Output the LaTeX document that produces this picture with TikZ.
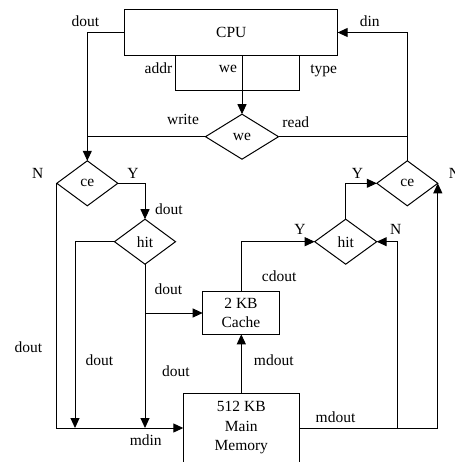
\documentclass[tikz,border=0pt]{standalone}
\usepackage{fontspec}
\setmainfont{Liberation Serif}
\usetikzlibrary{arrows.meta,shapes.geometric}
\begin{document}
\begin{tikzpicture}[x=1pt,y=-1pt, line width=1pt, >={Triangle[length=10pt,width=9pt]},
 every node/.style={font=\fontsize{15.5}{19.5}\selectfont},
 box/.style={draw, rectangle, inner sep=0pt, outer sep=0pt, align=center},
 dec/.style={draw, diamond, inner sep=0pt, outer sep=0pt, minimum width=61pt, minimum height=45pt},
 lab/.style={anchor=base, inner sep=0pt}]
\clip (0,0) rectangle (454,462);
% blocks
\node[box, minimum width=212.7pt, minimum height=46.4pt] (cpu) at (231.3,32.5) {CPU};
\node[box, minimum width=124.3pt, minimum height=35pt] (sig) at (237.2,73.2) {};
\node[dec, minimum width=73pt] (we) at (242,136.7) {we};
\node[dec] (ceL) at (87.3,183.3) {ce};
\node[dec] (hitL) at (145,241.7) {hit};
\node[dec, minimum width=62pt] (hitR) at (345.7,241.7) {hit};
\node[dec] (ceR) at (407.3,183.3) {ce};
\node[box, minimum width=76.6pt, minimum height=42.6pt] (cache) at (241,313) {2 KB\\Cache};
\node[box, minimum width=116pt, minimum height=70pt] (mem) at (241.3,428) {512 KB\\Main\\Memory};
\coordinate (dA) at (75,0);
\coordinate (dB) at (397.7,0);
% connectors
\draw[->] (cpu.west) -| (ceL.north);
\draw (we.west) -- (we.west -| ceL.north);
\draw[->] (ceR.north) |- (cpu.east);
\draw (we.east) -- (we.east -| ceR.north);
\draw[->] (we.north |- cpu.south) -- (we.north);
\draw[->] (ceL.east) -| (hitL.north);
\draw[->] (ceL.west) |- (mem.west);
\draw[->] (hitL.west) -| (dA |- mem.west);
\draw[->] (hitL.south) -- (hitL.south |- mem.west);
\draw[->] (hitL.south |- cache.west) -- (cache.west);
\draw[->] (mem.north) -- (mem.north |- cache.south);
\draw[->] (cache.north) |- (hitR.west);
\draw[->] (mem.east) -| (ceR.east);
\draw[->] (dB |- mem.west) |- (hitR.east);
\draw[->] (hitR.north) |- (ceR.west);
% labels
\node[lab] (l1) at (85.3,26.7) {dout};
\node[lab] (l2) at (369.7,26.7) {din};
\node[lab] (l3) at (158.5,74) {addr};
\node[lab] (l4) at (228,72.3) {we};
\node[lab] (l5) at (323.7,74) {type};
\node[lab] (l6) at (183,124.3) {write};
\node[lab] (l7) at (295.8,128) {read};
\node[lab] (l8) at (37.7,178.3) {N};
\node[lab] (l9) at (133,178.3) {Y};
\node[lab] (l10) at (169,214) {dout};
\node[lab] (l11) at (168.3,294.3) {dout};
\node[lab] (l12) at (279.2,281.7) {cdout};
\node[lab] (l13) at (300,234.3) {Y};
\node[lab] (l14) at (395.8,234.3) {N};
\node[lab] (l15) at (357.5,178.3) {Y};
\node[lab, anchor=base west] (l16) at (448.3,178.3) {N};
\node[lab] (l17) at (28.3,352.3) {dout};
\node[lab] (l18) at (99.3,365) {dout};
\node[lab] (l19) at (176,376.7) {dout};
\node[lab] (l20) at (273.8,365) {mdout};
\node[lab] (l21) at (145.8,445.7) {mdin};
\node[lab] (l22) at (335.5,422.7) {mdout};
\end{tikzpicture}
\end{document}
